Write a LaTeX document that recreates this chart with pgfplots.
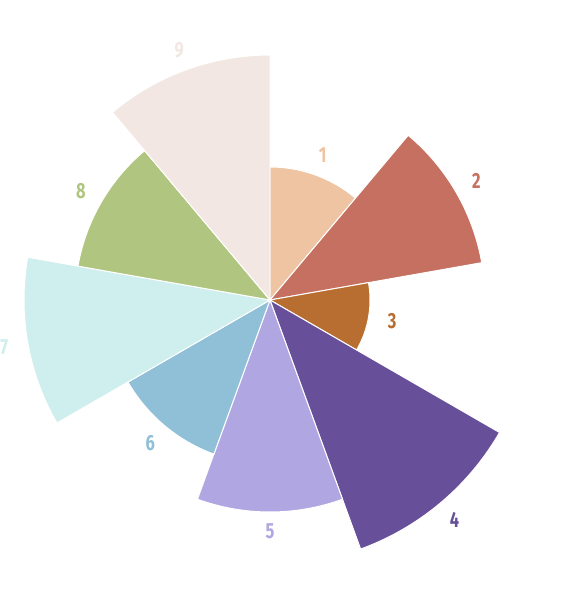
\documentclass[border=0pt]{standalone}
\usepackage{pgfplots}
\pgfplotsset{compat=1.18}
\usepackage{pgfplotstable}
\usepgfplotslibrary{polar}
\usepackage{fontspec}
\setmainfont{Fira Sans}
\newfontfamily\labfont[FakeStretch=0.75]{Fira Sans}

\definecolor{c1}{HTML}{EEC4A2}
\definecolor{c2}{HTML}{C57060}
\definecolor{c3}{HTML}{B86E30}
\definecolor{c4}{HTML}{675099}
\definecolor{c5}{HTML}{B0A6E2}
\definecolor{c6}{HTML}{8FC0D7}
\definecolor{c7}{HTML}{CFEEEE}
\definecolor{c8}{HTML}{B0C680}
\definecolor{c9}{HTML}{F2E7E2}

% sector: start angle (deg, ccw from east), end angle, radius
\pgfplotstableread{
id start stop r
1 50 90 133
2 10 50 215
3 -30 10 100
4 -70 -30 265
5 -110 -70 212
6 -150 -110 164
7 -190 -150 246
8 -230 -190 195
9 -270 -230 245
}\sectors

\begin{document}
\begin{tikzpicture}
\begin{polaraxis}[
    hide axis,
    scale only axis,
    width=600bp, height=600bp,
    ymin=0, ymax=300,
    xmin=0, xmax=360,
    clip=false,
  ]
  \coordinate (O) at (axis cs:0,0);
  \pgfplotsinvokeforeach{0,...,8}{
    \pgfplotstablegetelem{#1}{start}\of\sectors \edef\sA{\pgfplotsretval}
    \pgfplotstablegetelem{#1}{stop}\of\sectors \edef\sB{\pgfplotsretval}
    \pgfplotstablegetelem{#1}{r}\of\sectors \edef\sR{\pgfplotsretval}
    \pgfplotstablegetelem{#1}{id}\of\sectors \edef\sI{\pgfplotsretval}
    \edef\doplot{\noexpand\addplot[fill=c\sI, draw=white, line width=1pt, domain=\sA:\sB, samples=41]
      {\sR} -- (axis cs:\sA,0) -- cycle;}
    \doplot
    \pgfmathsetmacro\mA{(\sA+\sB)/2}
    \pgfmathsetmacro\mR{\sR+19+5*abs(cos(\mA))}
    \edef\donode{\noexpand\node[text=c\sI, font=\noexpand\labfont\noexpand\fontsize{22}{24}\noexpand\selectfont\noexpand\bfseries] at (axis cs:\mA,\mR) {\sI};}
    \donode
  }
\end{polaraxis}
\pgfresetboundingbox
\path[use as bounding box] ([xshift=-270bp,yshift=-305bp]O) rectangle ([xshift=291bp,yshift=300bp]O);
\end{tikzpicture}
\end{document}
